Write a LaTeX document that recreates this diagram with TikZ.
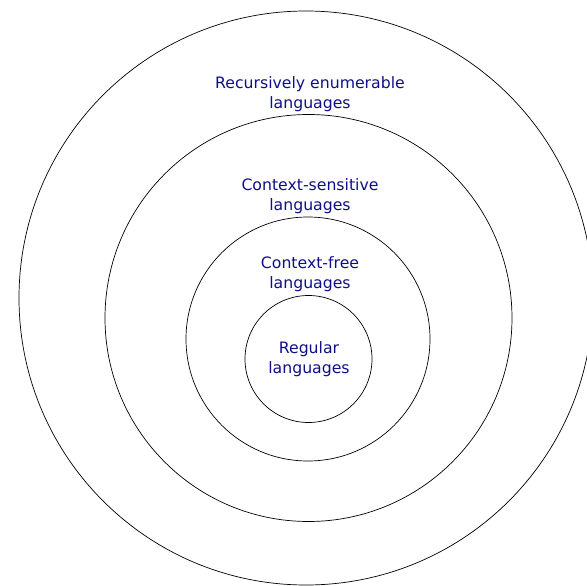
\documentclass[tikz,border=0pt]{standalone}
\usepackage{fontspec}
\setmainfont{DejaVu Sans}
\definecolor{langblue}{RGB}{15,15,135}

\begin{document}
\begin{tikzpicture}[x=1pt, y=-1pt,
  ring/.style={line width=0.7pt},
  lang/.style={text=langblue, align=center, inner sep=0pt,
    font=\fontsize{15.7}{20}\selectfont}]
\useasboundingbox (0,0) rectangle (587,586);
% Các đường tròn lồng nhau (hệ thống phân cấp Chomsky)
\draw[ring] (306,298) circle (287pt);
\draw[ring] (308.5,318) circle (203.5pt);
\draw[ring] (308,339) circle (122pt);
\draw[ring] (308.5,359) circle (63.5pt);

% Nhãn của từng lớp ngôn ngữ
\node[lang] (re) at (310,94.5) {Recursively enumerable\\languages};
\node[lang] (cs) at (310,196) {Context-sensitive\\languages};
\node[lang] (cf) at (310,274.5) {Context-free\\languages};
\node[lang] (reg) at (309,359.5) {Regular\\languages};
\end{tikzpicture}
\end{document}
